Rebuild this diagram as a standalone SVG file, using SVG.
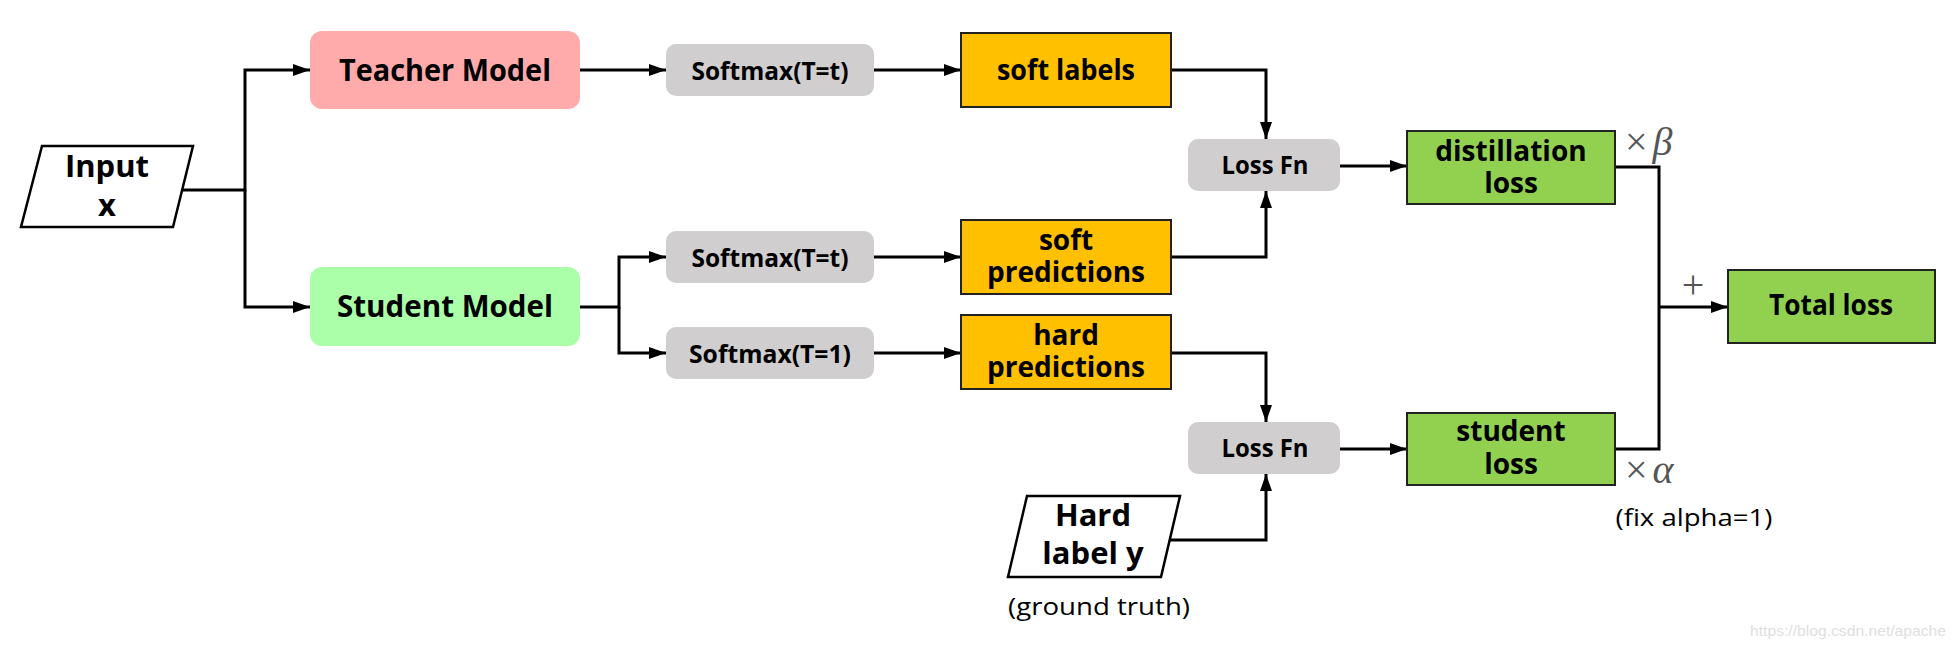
<svg xmlns="http://www.w3.org/2000/svg" width="1957" height="652" viewBox="0 0 1957 652">
<defs>
<style>
.lbl{font-family:"Open Sans","Noto Sans","Liberation Sans",sans-serif;font-weight:bold;fill:#000;text-anchor:middle}
.big{font-size:31px}
.mid{font-size:28px}
.sm{font-size:25px}
.note{font-family:"Open Sans","Noto Sans","Liberation Sans",sans-serif;font-size:24px;fill:#000;text-anchor:middle}
.math{font-family:"Liberation Serif","DejaVu Serif",serif;font-size:40px;fill:#555}
.conn{fill:none;stroke:#000;stroke-width:3}
.box{stroke:#222;stroke-width:2}
.para{fill:#fff;stroke:#000;stroke-width:2.5}
</style>
<marker id="arr" markerUnits="userSpaceOnUse" markerWidth="17" markerHeight="12" viewBox="0 0 17 12" refX="17" refY="6" orient="auto">
<path d="M0,0 L17,6 L0,12 Z" fill="#000"/>
</marker>
</defs>
<rect width="1957" height="652" fill="#fff"/>

<g id="connectors">
<path class="conn" d="M182,190 H245 V70 H310" marker-end="url(#arr)"/>
<path class="conn" d="M245,190 V307 H310" marker-end="url(#arr)"/>
<path class="conn" d="M580,70 H666" marker-end="url(#arr)"/>
<path class="conn" d="M874,70 H961" marker-end="url(#arr)"/>
<path class="conn" d="M1171,70 H1266 V139" marker-end="url(#arr)"/>
<path class="conn" d="M580,307 H619 V257 H666" marker-end="url(#arr)"/>
<path class="conn" d="M619,307 V353 H666" marker-end="url(#arr)"/>
<path class="conn" d="M874,257 H961" marker-end="url(#arr)"/>
<path class="conn" d="M874,353 H961" marker-end="url(#arr)"/>
<path class="conn" d="M1171,257 H1266 V191" marker-end="url(#arr)"/>
<path class="conn" d="M1171,353 H1266 V422" marker-end="url(#arr)"/>
<path class="conn" d="M1170,540 H1266 V474" marker-end="url(#arr)"/>
<path class="conn" d="M1340,166 H1407" marker-end="url(#arr)"/>
<path class="conn" d="M1340,449 H1407" marker-end="url(#arr)"/>
<path class="conn" d="M1615,167 H1659 V449 H1615"/>
<path class="conn" d="M1659,307 H1728" marker-end="url(#arr)"/>
</g>

<g id="input">
<polygon class="para" points="42,146 193,146 173,227 21,227"/>
<text class="lbl big" x="107"><tspan x="107" y="177">Input</tspan><tspan x="107" y="216">x</tspan></text>
</g>

<g id="teacher">
<rect x="310" y="31" width="270" height="78" rx="12" fill="#FFABAB"/>
<text class="lbl big" x="445" y="81" textLength="212" lengthAdjust="spacingAndGlyphs">Teacher Model</text>
</g>

<g id="student">
<rect x="310" y="267" width="270" height="79" rx="12" fill="#AAFFA8"/>
<text class="lbl big" x="445" y="317" textLength="216" lengthAdjust="spacingAndGlyphs">Student Model</text>
</g>

<g id="softmax-teacher">
<rect x="666" y="44" width="208" height="52" rx="10" fill="#D0CECE"/>
<text class="lbl sm" x="770" y="80" textLength="157" lengthAdjust="spacingAndGlyphs">Softmax(T=t)</text>
</g>

<g id="softmax-student-t">
<rect x="666" y="231" width="208" height="52" rx="10" fill="#D0CECE"/>
<text class="lbl sm" x="770" y="267" textLength="157" lengthAdjust="spacingAndGlyphs">Softmax(T=t)</text>
</g>

<g id="softmax-student-1">
<rect x="666" y="327" width="208" height="52" rx="10" fill="#D0CECE"/>
<text class="lbl sm" x="770" y="363" textLength="162" lengthAdjust="spacingAndGlyphs">Softmax(T=1)</text>
</g>

<g id="soft-labels">
<rect class="box" x="961" y="33" width="210" height="74" fill="#FFC000"/>
<text class="lbl mid" x="1066" y="80" textLength="138" lengthAdjust="spacingAndGlyphs">soft labels</text>
</g>

<g id="soft-predictions">
<rect class="box" x="961" y="220" width="210" height="74" fill="#FFC000"/>
<text class="lbl mid"><tspan x="1066" y="250">soft</tspan><tspan x="1066" y="282">predictions</tspan></text>
</g>

<g id="hard-predictions">
<rect class="box" x="961" y="315" width="210" height="74" fill="#FFC000"/>
<text class="lbl mid"><tspan x="1066" y="345">hard</tspan><tspan x="1066" y="377">predictions</tspan></text>
</g>

<g id="lossfn-1">
<rect x="1188" y="139" width="152" height="52" rx="10" fill="#D0CECE"/>
<text class="lbl sm" x="1265" y="174" textLength="87" lengthAdjust="spacingAndGlyphs">Loss Fn</text>
</g>

<g id="lossfn-2">
<rect x="1188" y="422" width="152" height="52" rx="10" fill="#D0CECE"/>
<text class="lbl sm" x="1265" y="457" textLength="87" lengthAdjust="spacingAndGlyphs">Loss Fn</text>
</g>

<g id="hard-label">
<polygon class="para" points="1027,496 1180,496 1161,577 1008,577"/>
<text class="lbl big"><tspan x="1093" y="526">Hard</tspan><tspan x="1093" y="564">label y</tspan></text>
<text class="note" x="1099" y="615" textLength="182" lengthAdjust="spacingAndGlyphs">(ground truth)</text>
</g>

<g id="distillation-loss">
<rect class="box" x="1407" y="131" width="208" height="73" fill="#92D050"/>
<text class="lbl mid"><tspan x="1511" y="161">distillation</tspan><tspan x="1511" y="193">loss</tspan></text>
<text class="math" x="1625" y="155">×<tspan font-style="italic" dx="5">β</tspan></text>
</g>

<g id="student-loss">
<rect class="box" x="1407" y="413" width="208" height="72" fill="#92D050"/>
<text class="lbl mid"><tspan x="1511" y="441">student</tspan><tspan x="1511" y="474">loss</tspan></text>
<text class="math" x="1625" y="483">×<tspan font-style="italic" dx="5">α</tspan></text>
<text class="note" x="1694" y="526" textLength="157" lengthAdjust="spacingAndGlyphs">(fix alpha=1)</text>
</g>

<g id="total-loss">
<rect class="box" x="1728" y="270" width="207" height="73" fill="#92D050"/>
<text class="lbl mid" x="1831" y="315" textLength="124" lengthAdjust="spacingAndGlyphs">Total loss</text>
<text class="math" x="1693" y="298" text-anchor="middle" font-size="44">+</text>
</g>

<text x="1750" y="636" font-family="Liberation Sans, Arial, sans-serif" font-size="15" fill="#E0E0E0" textLength="196" lengthAdjust="spacingAndGlyphs">https://blog.csdn.net/apache</text>
</svg>
